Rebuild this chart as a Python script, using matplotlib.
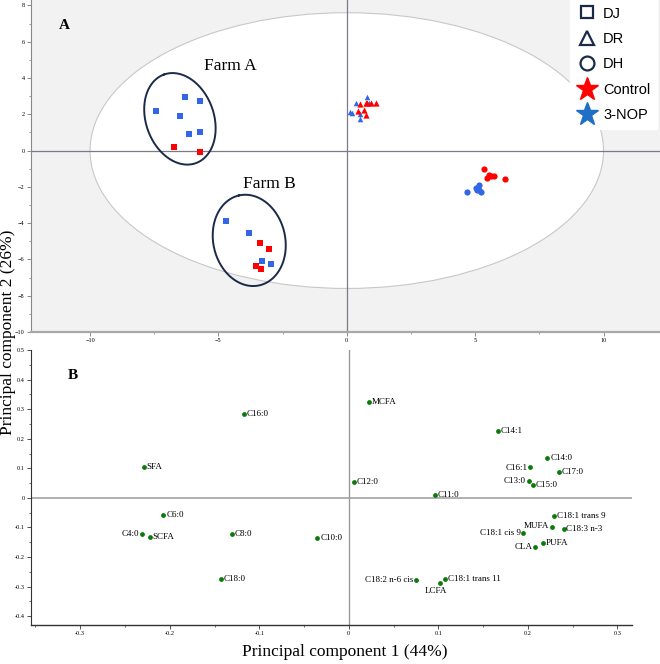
import numpy as np
import matplotlib
matplotlib.use("Agg")
import matplotlib.pyplot as plt
from matplotlib.patches import Ellipse
from matplotlib.lines import Line2D
from matplotlib.ticker import MultipleLocator, FuncFormatter

# ---------------- Panel A: scores ----------------
# DJ (squares)
dj_ctrl_x = [-6.75, -5.70, -3.40, -3.04, -3.53, -3.36]
dj_ctrl_y = [0.18, -0.08, -5.08, -5.45, -6.38, -6.50]
dj_nop_x = [-7.44, -6.29, -5.72, -6.50, -6.16, -5.70, -4.69, -3.79, -3.32, -2.94]
dj_nop_y = [2.19, 2.96, 2.72, 1.93, 0.94, 1.03, -3.89, -4.55, -6.08, -6.24]
# DR (triangles)
dr_ctrl_x = [0.73, 1.14, 0.52, 0.44, 0.68, 0.75, 0.78, 0.96]
dr_ctrl_y = [2.63, 2.63, 2.56, 2.19, 2.23, 1.97, 2.60, 2.61]
dr_nop_x = [0.77, 0.36, 0.14, 0.22, 0.51, 0.51, 0.88]
dr_nop_y = [2.93, 2.60, 2.10, 2.06, 2.04, 1.76, 2.60]
# DH (circles)
dh_ctrl_x = [5.36, 5.55, 5.45, 5.75, 6.18, 5.62]
dh_ctrl_y = [-1.02, -1.33, -1.51, -1.42, -1.59, -1.40]
dh_nop_x = [4.70, 5.04, 5.16, 5.14, 5.24, 5.06]
dh_nop_y = [-2.27, -2.04, -1.92, -2.15, -2.30, -2.15]

farm_names = ["Farm A", "Farm B"]

# ---------------- Panel B: loadings ----------------
fa_names = ["C16:0", "SFA", "C6:0", "C4:0", "SCFA", "C8:0", "C10:0", "C18:0",
            "MCFA", "C14:1", "C14:0", "C16:1", "C17:0", "C12:0", "C13:0", "C15:0",
            "C11:0", "C18:1 trans 9", "MUFA", "C18:3 n-3", "C18:1 cis 9", "PUFA",
            "CLA", "C18:2 n-6 cis", "C18:1 trans 11", "LCFA"]
pc1 = [-0.117, -0.229, -0.207, -0.231, -0.222, -0.131, -0.035, -0.143,
       0.023, 0.167, 0.222, 0.203, 0.235, 0.006, 0.201, 0.206,
       0.096, 0.229, 0.227, 0.240, 0.195, 0.217,
       0.208, 0.0755, 0.108, 0.102]
pc2 = [0.285, 0.106, -0.059, -0.121, -0.133, -0.121, -0.134, -0.273,
       0.324, 0.226, 0.134, 0.103, 0.087, 0.053, 0.058, 0.045,
       0.009, -0.062, -0.099, -0.106, -0.118, -0.151,
       -0.165, -0.277, -0.274, -0.287]
# label placement: r = right, l = left, b = below, ul = upper-left
label_side = ["r", "r", "r", "l", "r", "r", "r", "r",
              "r", "r", "r", "l", "r", "r", "l", "r",
              "r", "r", "ul", "r", "l", "r",
              "l", "l", "r", "b"]

RED = "#ff0000"
BLUE = "#3366e6"
GREEN = "#0a7a0a"
NAVY = "#1a2a48"
SERIF = ["Liberation Serif", "DejaVu Serif"]
SANS = ["Liberation Sans", "DejaVu Sans"]

fig = plt.figure(figsize=(6.6, 6.64), dpi=100)

# ---------- Panel A ----------
axA = fig.add_axes([0.047, 0.5, 0.953, 0.5])
axA.set_facecolor("#f2f2f2")
axA.set_xlim(-12.3, 12.2)
axA.set_ylim(-10, 8.3)
axA.add_patch(Ellipse((0, 0), 20, 15.2, facecolor="white", edgecolor="#c8c8c8",
                      lw=0.8, zorder=1))
axA.axhline(0, color="#7a7a88", lw=0.9, zorder=2)
axA.axvline(0, color="#7a7a88", lw=0.9, zorder=2)

ms = 22
axA.scatter(dj_nop_x, dj_nop_y, marker="s", s=ms, color=BLUE, zorder=4, lw=0)
axA.scatter(dj_ctrl_x, dj_ctrl_y, marker="s", s=ms, color=RED, zorder=4, lw=0)
axA.scatter(dr_nop_x, dr_nop_y, marker="^", s=16, color=BLUE, zorder=4, lw=0)
axA.scatter(dr_ctrl_x, dr_ctrl_y, marker="^", s=20, color=RED, zorder=5, lw=0)
axA.scatter(dh_nop_x, dh_nop_y, marker="o", s=20, color=BLUE, zorder=4, lw=0)
axA.scatter(dh_ctrl_x, dh_ctrl_y, marker="o", s=20, color=RED, zorder=4, lw=0)

# farm ellipses drawn in pixel-proportional units
def px_ellipse(ax, cx, cy, a_px, b_px, ang_deg, sx, sy):
    t = np.linspace(0, 2 * np.pi, 200)
    ang = np.deg2rad(ang_deg)
    ex = a_px * np.cos(t) * np.cos(ang) - b_px * np.sin(t) * np.sin(ang)
    ey = a_px * np.cos(t) * np.sin(ang) + b_px * np.sin(t) * np.cos(ang)
    ax.plot(cx + ex / sx, cy + ey / sy, color=NAVY, lw=1.4, zorder=6)

sx, sy = 25.7, 18.1
px_ellipse(axA, -6.5, 1.75, 47, 34, 110, sx, sy)
px_ellipse(axA, -3.8, -4.95, 46, 36, 103, sx, sy)
axA.text(-4.55, 4.65, farm_names[0], family=SERIF, fontsize=12.5, ha="center", va="center")
axA.text(-3.0, -1.85, farm_names[1], family=SERIF, fontsize=12.5, ha="center", va="center")
axA.text(-11.2, 6.9, "A", family=SERIF, fontsize=11, fontweight="bold", ha="left", va="center")

axA.xaxis.set_major_locator(MultipleLocator(5))
axA.xaxis.set_minor_locator(MultipleLocator(2.5))
axA.yaxis.set_major_locator(MultipleLocator(2))
axA.yaxis.set_minor_locator(MultipleLocator(1))
axA.tick_params(axis="both", which="major", labelsize=4.5, length=3, width=0.6,
                color="#777777", pad=1.5)
axA.tick_params(axis="both", which="minor", length=1.5, width=0.5, color="#777777")
for lbl in axA.get_xticklabels() + axA.get_yticklabels():
    lbl.set_family(SERIF)
for s in ["top", "right"]:
    axA.spines[s].set_visible(False)
axA.spines["left"].set_color("#888888")
axA.spines["left"].set_linewidth(0.8)
axA.spines["bottom"].set_color("#a8a8a8")
axA.spines["bottom"].set_linewidth(1.6)

handles = [
    Line2D([], [], marker="s", ls="none", mfc="none", mec=NAVY, mew=1.6, ms=9),
    Line2D([], [], marker="^", ls="none", mfc="none", mec=NAVY, mew=1.6, ms=10),
    Line2D([], [], marker="o", ls="none", mfc="none", mec=NAVY, mew=1.6, ms=10),
    Line2D([], [], marker="*", ls="none", mfc=RED, mec=RED, ms=17),
    Line2D([], [], marker="*", ls="none", mfc="#1f6fc5", mec="#1f6fc5", ms=17),
]
leg = axA.legend(handles, ["DJ", "DR", "DH", "Control", "3-NOP"], loc="upper right",
                 bbox_to_anchor=(0.995, 1.0), frameon=True, fancybox=False,
                 edgecolor="white", facecolor="white", framealpha=1,
                 prop={"family": SANS, "size": 10.5}, handletextpad=0.4,
                 labelspacing=0.78, borderpad=0.45, handlelength=1.4,
                 borderaxespad=0.0)
leg.set_zorder(10)

# ---------- Panel B ----------
axB = fig.add_axes([0.047, 0.0587, 0.910, 0.414])
axB.set_xlim(-0.355, 0.316)
axB.set_ylim(-0.43, 0.5)
axB.axhline(0, color="#b0b0b0", lw=1.4, zorder=1)
axB.axvline(0, color="#9a9a9a", lw=1.0, zorder=1)
axB.scatter(pc1, pc2, s=12, color=GREEN, zorder=3, lw=0)
for n, x, y, side in zip(fa_names, pc1, pc2, label_side):
    if side == "r":
        axB.annotate(n, (x, y), xytext=(2, 0), textcoords="offset points",
                     ha="left", va="center", family=SERIF, fontsize=6.5)
    elif side == "l":
        axB.annotate(n, (x, y), xytext=(-2, -0.5), textcoords="offset points",
                     ha="right", va="center", family=SERIF, fontsize=6.5)
    elif side == "ul":
        axB.annotate(n, (x, y), xytext=(-2, 0.5), textcoords="offset points",
                     ha="right", va="center", family=SERIF, fontsize=6.5)
    else:
        axB.annotate(n, (x, y), xytext=(-3, -6), textcoords="offset points",
                     ha="center", va="center", family=SERIF, fontsize=6.5)
axB.text(-0.314, 0.415, "B", family=SERIF, fontsize=11, fontweight="bold",
         ha="left", va="center")

axB.xaxis.set_major_locator(MultipleLocator(0.1))
axB.xaxis.set_minor_locator(MultipleLocator(0.05))
axB.yaxis.set_major_locator(MultipleLocator(0.1))
axB.yaxis.set_minor_locator(MultipleLocator(0.05))
fmt = FuncFormatter(lambda v, p: "0" if abs(v) < 1e-9 else f"{v:.1f}")
axB.xaxis.set_major_formatter(fmt)
axB.yaxis.set_major_formatter(fmt)
axB.tick_params(axis="both", which="major", labelsize=4.5, length=3, width=0.6,
                color="#333333", pad=1.5)
axB.tick_params(axis="both", which="minor", length=1.5, width=0.5, color="#333333")
for lbl in axB.get_xticklabels() + axB.get_yticklabels():
    lbl.set_family(SERIF)
for s in ["top", "right"]:
    axB.spines[s].set_visible(False)
axB.spines["left"].set_color("#333333")
axB.spines["left"].set_linewidth(0.8)
axB.spines["bottom"].set_color("#333333")
axB.spines["bottom"].set_linewidth(1.0)

fig.text(0.0118, 0.5, "Principal component 2 (26%)", rotation=90, family=SERIF,
         fontsize=12.5, ha="center", va="center")
fig.text(0.523, 0.018, "Principal component 1 (44%)", family=SERIF,
         fontsize=12.5, ha="center", va="center")

fig.savefig("out.png", dpi=100)
